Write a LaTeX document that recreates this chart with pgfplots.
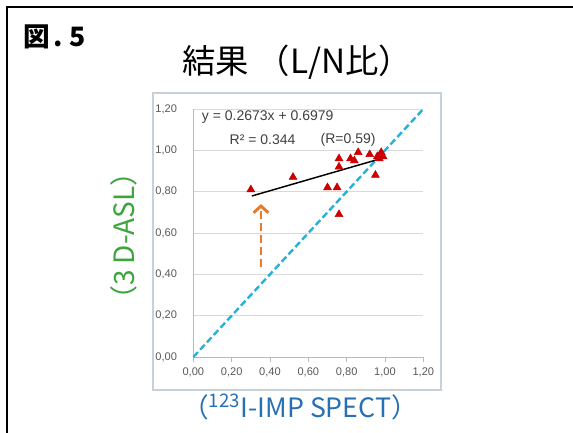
\documentclass[border=0pt]{standalone}
\usepackage{pgfplots}
\pgfplotsset{compat=1.18}
\usepackage{fontspec}
\setmainfont{Liberation Sans}
\newfontfamily\cjk{Noto Sans CJK JP}
\usetikzlibrary{arrows.meta}
\definecolor{tri}{RGB}{204,0,0}
\definecolor{diag}{RGB}{40,176,216}
\definecolor{arr}{RGB}{232,122,40}
\definecolor{ylab}{RGB}{60,165,60}
\definecolor{xlab}{RGB}{40,112,180}
\definecolor{boxc}{RGB}{200,208,216}
\definecolor{tickc}{RGB}{89,89,89}
\definecolor{eqc}{RGB}{64,64,64}
\pgfplotstableread{
x y
0.30 0.81
0.52 0.87
0.70 0.82
0.75 0.82
0.76 0.69
0.76 0.96
0.76 0.92
0.82 0.96
0.84 0.95
0.86 0.99
0.92 0.98
0.95 0.88
0.96 0.97
0.97 0.96
0.98 0.99
0.99 0.97
}\pts
\begin{document}
\begin{tikzpicture}
\path[use as bounding box] (0,0) rectangle (429.75pt,324pt);
\fill[white] (0,0) rectangle (429.75pt,324pt);
\draw[black, line width=1.6pt] (5.25pt,-2pt) -- (5.25pt,318.75pt) -- (432pt,318.75pt);
\draw[boxc, line width=0.8pt] (114.75pt,31.5pt) rectangle (330.75pt,254.25pt);
\node[font={\cjk\bfseries\fontsize{20}{24}\selectfont}, anchor=west] at (14pt,296pt) {図\hspace{0.12em}.\hspace{0.25em}5};
\node[font={\cjk\fontsize{25}{30}\selectfont}] at (223pt,277pt) {結果 （L/N比）};
\node[font={\cjk\fontsize{21}{24}\selectfont}, text=ylab, rotate=90] at (93pt,147pt) {（3 D-ASL）};
\node[font={\cjk\fontsize{20}{24}\selectfont}, text=xlab] at (225pt,19pt) {（\textsuperscript{123}I-IMP SPECT）};
\begin{axis}[
  at={(145pt,56.25pt)}, anchor=south west,
  scale only axis, width=172.5pt, height=186pt,
  xmin=0, xmax=1.2, ymin=0, ymax=1.2,
  xtick={0,0.2,...,1.2}, ytick={0,0.2,...,1.2},
  axis lines=left, axis line style={-, draw=gray!55, line width=0.6pt},
  ymajorgrids, grid style={draw=gray!30, line width=0.6pt},
  tick align=outside, xtick pos=bottom,
  x tick style={draw=gray!55, line width=0.6pt}, major tick length=3.75pt,
  y tick style={draw=none},
  tick label style={font=\fontsize{8.3}{10}\selectfont, text=tickc},
  x tick label style={yshift=-1pt},
  y tick label style={xshift=-5pt},
  /pgf/number format/.cd, fixed, fixed zerofill, precision=2, use comma, assume math mode=true,
  /pgfplots/.cd,
  clip=false,
]
\addplot[diag, line width=1.8pt, dash pattern=on 5pt off 2.5pt] coordinates {(0,0) (1.2,1.2)};
\addplot[black, line width=1.1pt] coordinates {(0.305,0.779) (0.99,0.963)};
\addplot[only marks, mark=triangle*, mark size=3.4pt, tri, mark options={draw=tri, fill=tri}] table[x=x,y=y] {\pts};
\addplot[arr, line width=2.2pt, dash pattern=on 6pt off 3pt, -{Straight Barb[length=5pt,width=11pt]}] coordinates {(0.353,0.435) (0.353,0.74)};
\node[anchor=west, font=\fontsize{10.5}{12}\selectfont, text=eqc] at (axis cs:0.02,1.16) {y = 0.2673x + 0.6979};
\node[anchor=west, font=\fontsize{10.5}{12}\selectfont, text=eqc] at (axis cs:0.165,1.05) {R² = 0.344};
\node[anchor=west, font=\fontsize{10.5}{12}\selectfont, text=eqc] at (axis cs:0.64,1.05) {(R=0.59)};
\end{axis}
\end{tikzpicture}
\end{document}
